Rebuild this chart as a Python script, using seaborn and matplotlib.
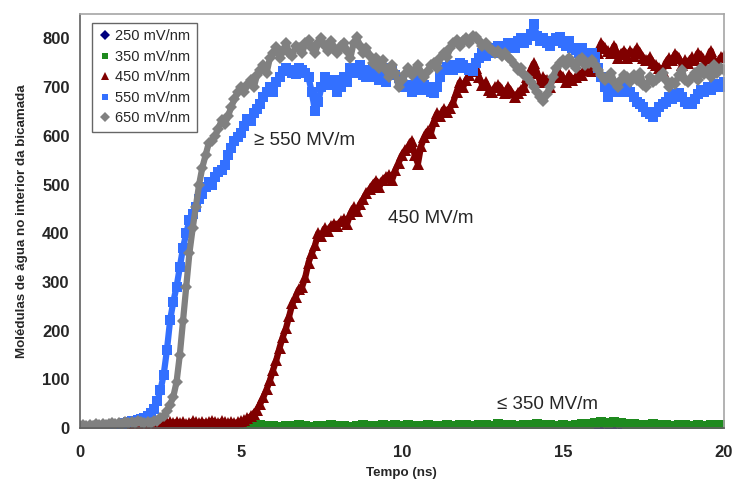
import numpy as np
import pandas as pd
import matplotlib
matplotlib.use("Agg")
import matplotlib.pyplot as plt
from matplotlib.lines import Line2D
from matplotlib.ticker import MultipleLocator
import seaborn as sns

# time grids (ns)
t_fine = np.round(np.arange(0, 20.01, 0.1), 1)
t_coarse = np.round(np.arange(0, 20.01, 0.2), 1)

# water molecules inside bilayer
v650 = [5, 6, 4, 7, 5, 8, 6, 9, 7, 8,
        10, 8, 11, 9, 12, 10, 13, 11, 14, 12,
        10, 12, 11, 14, 15, 20, 26, 35, 48, 65,
        95, 150, 220, 290, 360, 410, 455, 500, 535, 560,
        585, 590, 600, 615, 632, 625, 640, 660, 675, 690,
        700, 690, 705, 715, 700, 725, 735, 745, 730, 760,
        770, 782, 760, 775, 790, 770, 765, 785, 780, 770,
        790, 796, 780, 770, 790, 800, 785, 775, 795, 780,
        770, 785, 790, 775, 760, 790, 802, 785, 770, 780,
        765, 750, 760, 740, 755, 735, 720, 745, 730, 700,
        715, 728, 740, 725, 735, 745, 730, 720, 734, 745,
        750, 740, 760, 770, 761, 780, 790, 796, 785, 795,
        800, 790, 805, 802, 795, 785, 790, 780, 776, 770,
        775, 765, 770, 761, 755, 745, 735, 740, 725, 720,
        710, 700, 690, 680, 672, 685, 700, 720, 740, 750,
        755, 745, 760, 750, 740, 755, 760, 745, 750, 755,
        745, 735, 725, 714, 720, 730, 710, 700, 715, 725,
        720, 710, 725, 714, 730, 705, 700, 720, 710, 715,
        720, 730, 715, 700, 710, 707, 725, 735, 715, 710,
        720, 730, 715, 740, 728, 735, 720, 745, 730, 740,
        735]

v550 = [0, 1, 0, 2, 1, 3, 2, 4, 3, 5,
        5, 7, 6, 8, 10, 12, 14, 15, 16, 18,
        20, 25, 32, 40, 55, 78, 110, 160, 222, 260,
        290, 330, 370, 400, 427, 440, 455, 470, 480, 495,
        505, 500, 515, 525, 529, 540, 560, 575, 590, 597,
        605, 620, 635, 630, 646, 655, 665, 680, 690, 700,
        690, 710, 720, 734, 740, 735, 730, 728, 740, 735,
        730, 720, 690, 652, 670, 700, 720, 714, 705, 714,
        690, 700, 720, 710, 740, 730, 734, 745, 725, 720,
        735, 740, 720, 715, 730, 710, 740, 735, 725, 718,
        710, 700, 705, 690, 700, 715, 695, 705, 700, 690,
        687, 700, 720, 735, 741, 745, 735, 740, 750, 745,
        740, 735, 734, 750, 760, 770, 765, 775, 780, 770,
        785, 780, 775, 790, 790, 780, 795, 800, 790, 796,
        810, 830, 805, 795, 800, 790, 785, 795, 800, 802,
        790, 785, 795, 780, 776, 770, 780, 765, 760, 770,
        761, 740, 720, 700, 680, 690, 705, 700, 690, 710,
        700, 690, 680, 670, 665, 660, 650, 645, 638, 650,
        660, 665, 670, 680, 675, 685, 687, 680, 670, 665,
        665, 675, 685, 694, 690, 700, 695, 705, 707, 700,
        710]

v450 = [0, 0, 1, 0, 1, 0, 1, 2, 1, 2,
        2, 1, 3, 2, 3, 4, 3, 5, 4, 6,
        5, 6, 8, 7, 10, 9, 11, 10, 12, 11,
        13, 10, 12, 9, 11, 14, 12, 10, 13, 11,
        12, 15, 13, 11, 14, 12, 10, 13, 11, 12,
        14, 16, 20, 24, 30, 38, 50, 64, 80, 98,
        120, 140, 165, 187, 205, 230, 256, 270, 285, 290,
        310, 340, 359, 375, 400, 395, 410, 405, 415, 420,
        415, 425, 430, 420, 440, 453, 445, 460, 470, 482,
        490, 500, 508, 495, 510, 515, 520, 510, 530, 545,
        560, 570, 577, 590, 560, 543, 580, 597, 610, 605,
        630, 646, 640, 655, 650, 658, 670, 690, 710, 700,
        715, 725, 734, 740, 720, 705, 710, 695, 690, 700,
        705, 695, 687, 700, 690, 680, 687, 695, 700, 720,
        735, 749, 730, 710, 720, 715, 700, 720, 725, 728,
        720, 710, 725, 714, 720, 730, 725, 740, 735, 734,
        750, 770, 790, 780, 775, 770, 785, 760, 769, 775,
        760, 775, 765, 780, 770, 760, 755, 761, 750, 745,
        740, 734, 750, 760, 755, 769, 760, 745, 755, 750,
        761, 755, 770, 765, 750, 760, 775, 755, 745, 761,
        765]

v350 = [0, 0, 1, 0, 1, 0, 1, 1, 0, 1, 1, 2, 1, 1, 2, 1, 2, 1, 2, 1, 2, 1, 2, 1, 1,
        4, 5, 3, 6, 4, 5, 3, 5, 4, 6, 5, 3, 4, 5, 6, 4, 5, 3, 5, 6, 4, 5, 6, 5, 7,
        5, 6, 4, 5, 6, 5, 4, 6, 5, 7, 6, 5, 7, 6, 5, 8, 7, 6, 5, 7, 6, 8, 7, 6, 5,
        6, 5, 7, 8, 9, 10, 12, 11, 13, 10, 9, 8, 7, 6, 8, 7, 6, 5, 7, 6, 5, 6, 5, 6, 7,
        6]

v250 = [0, 1, 0, 0, 1, 0, 1, 0, 0, 1, 0, 1, 1, 0, 1, 0, 1, 0, 1, 1, 0, 1, 0, 1, 0,
        1, 0, 1, 1, 0, 1, 0, 1, 0, 1, 1, 0, 1, 0, 1, 0, 1, 1, 0, 1, 0, 1, 0, 1, 1,
        0, 1, 0, 1, 1, 0, 1, 0, 1, 0, 1, 1, 0, 1, 0, 1, 2, 1, 0, 1, 0, 1, 2, 1, 0,
        1, 0, 1, 2, 1, 2, 3, 2, 3, 2, 1, 0, 1, 0, 1, 0, 1, 1, 0, 1, 0, 1, 0, 1, 0,
        1]

series = [
    ("250 mV/nm", t_coarse, v250, "#00007F", "D", 5.0),
    ("350 mV/nm", t_coarse, v350, "#1E8A1E", "s", 6.5),
    ("450 mV/nm", t_fine, v450, "#800000", "^", 8.0),
    ("550 mV/nm", t_fine, v550, "#3370FF", "s", 6.5),
    ("650 mV/nm", t_fine, v650, "#808080", "D", 6.5),
]

sns.set_style("white")
plt.rcParams["font.family"] = ["Liberation Sans", "DejaVu Sans"]

fig = plt.figure(figsize=(7.34, 4.86), dpi=100)
ax = fig.add_axes([0.109, 0.119, 0.877, 0.852])

for name, t, v, color, marker, ms in series:
    df = pd.DataFrame({"t": t, "n": v})
    sns.lineplot(data=df, x="t", y="n", ax=ax, color=color, lw=4.5,
                 marker=marker, markersize=ms, markeredgewidth=0,
                 estimator=None, sort=False)

ax.set_xlim(0, 20)
ax.set_ylim(0, 850)
ax.xaxis.set_major_locator(MultipleLocator(5))
ax.xaxis.set_minor_locator(MultipleLocator(1))
ax.yaxis.set_major_locator(MultipleLocator(100))
ax.yaxis.set_minor_locator(MultipleLocator(50))
ax.set_yticks(range(0, 801, 100))
ax.tick_params(axis="both", which="major", direction="out", length=4, width=1,
               color="#606060", labelsize=12)
ax.tick_params(axis="both", which="minor", direction="out", length=3, width=0.8,
               color="#606060")
for lab in ax.get_xticklabels() + ax.get_yticklabels():
    lab.set_fontweight("bold")
ax.tick_params(axis="x", pad=8)

for side in ["left", "bottom"]:
    ax.spines[side].set_color("#606060")
    ax.spines[side].set_linewidth(1.2)
for side in ["top", "right"]:
    ax.spines[side].set_color("#A6A6A6")
    ax.spines[side].set_linewidth(1.2)

ax.set_xlabel("Tempo (ns)", fontsize=9.6, fontweight="bold", labelpad=5)
ax.set_ylabel("Molédulas de água no interior da bicamada", fontsize=9.6,
              fontweight="bold", labelpad=10)

ax.text(5.4, 590, "≥ 550 MV/m", fontsize=13.5, va="center", ha="left")
ax.text(9.57, 431, "450 MV/m", fontsize=13.5, va="center", ha="left")
ax.text(12.96, 49, "≤ 350 MV/m", fontsize=13.5, va="center", ha="left")

handles = [Line2D([], [], ls="none", marker=m, color=c, markersize=5 if m != "^" else 6,
                  markeredgewidth=0)
           for _, _, _, c, m, _ in series]
leg = ax.legend(handles, [s[0] for s in series], loc="upper left",
                bbox_to_anchor=(0.008, 0.997), fontsize=10.5, frameon=True,
                fancybox=False, edgecolor="#404040", handlelength=0.8,
                handletextpad=0.3, borderpad=0.45, labelspacing=0.45)
leg.get_frame().set_linewidth(1.0)

fig.savefig("out.png", dpi=100)
